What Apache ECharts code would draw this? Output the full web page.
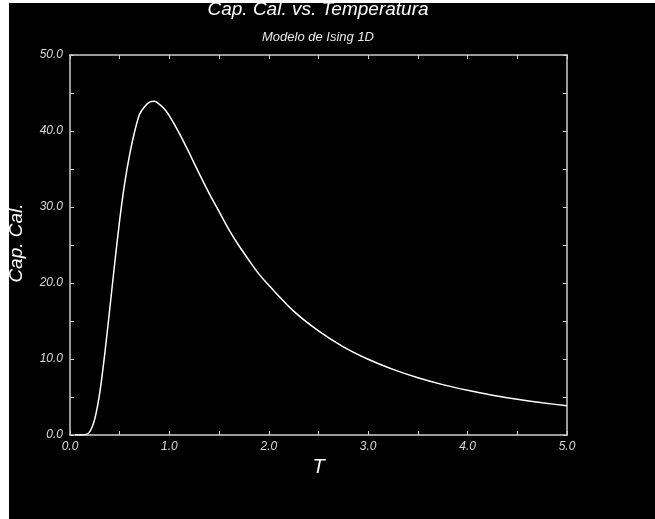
<!DOCTYPE html>
<html>
<head>
<meta charset="utf-8">
<script src="https://cdn.jsdelivr.net/npm/echarts@6/dist/echarts.min.js"></script>
<style>
    html, body { margin: 0; padding: 0; background: #ffffff; }
    #chart { position: absolute; left: 9px; top: 3px; width: 646px; height: 516px; }
</style>
</head>
<body>
<div id="chart"></div>
<script>
// Temperatura (eje x)
const temps = [0.05, 0.1, 0.15, 0.2, 0.25, 0.3, 0.35, 0.4, 0.45, 0.5, 0.55, 0.6, 0.65, 0.7, 0.75, 0.8, 0.85, 0.9, 0.95, 1.0,
    1.1, 1.2, 1.3, 1.4, 1.5, 1.6, 1.7, 1.8, 1.9, 2.0, 2.25, 2.5, 2.75, 3.0, 3.25, 3.5, 3.75, 4.0, 4.25, 4.5, 4.75, 5.0];
// Capacidad calorifica
const capCal = [0.0, 0.0, 0.03, 0.45, 2.15, 5.6, 10.7, 16.6, 22.6, 28.3, 33.1, 36.9, 39.9, 42.2, 43.2, 43.8, 43.9, 43.5, 42.9, 42.0,
    39.7, 37.1, 34.4, 31.8, 29.4, 27.0, 24.9, 23.0, 21.2, 19.7, 16.3, 13.7, 11.6, 9.96, 8.63, 7.53, 6.63, 5.88, 5.24, 4.70, 4.24, 3.84];

const xTicks = [0, 1, 2, 3, 4, 5];
const yTicks = [0, 10, 20, 30, 40, 50];

const titleText = 'Cap. Cal. vs. Temperatura';
const subtitleText = 'Modelo de Ising 1D';
const xName = 'T';
const yName = 'Cap. Cal.';

const font = 'Liberation Sans, Arial, sans-serif';
const frameColor = '#cfcfcf';

const points = temps.map((t, i) => [t, capCal[i]]);

// etiquetas solo en los valores principales
const fmt = (list) => (v) => list.some(k => Math.abs(k - v) < 1e-9) ? v.toFixed(1) : '';

const frameAxis = (extra) => Object.assign({
    type: 'value',
    axisLine: { show: true, onZero: false, lineStyle: { color: frameColor, width: 1.5 } },
    axisTick: { show: true, inside: true, length: 4, lineStyle: { color: frameColor, width: 1 } },
    splitLine: { show: false },
}, extra);

const chart = echarts.init(document.getElementById('chart'));

chart.setOption({
    backgroundColor: '#000000',
    animation: false,
    grid: { left: 61, right: 88, top: 52, bottom: 84 },
    graphic: [
        {
            type: 'text', x: 309, y: -3,
            style: { text: titleText, fill: '#ffffff', font: 'italic 19px ' + font, textAlign: 'center', textVerticalAlign: 'top' }
        },
        {
            type: 'text', x: 309, y: 28,
            style: { text: subtitleText, fill: '#e8e8e8', font: 'italic 13px ' + font, textAlign: 'center', textVerticalAlign: 'top' }
        },
        {
            type: 'text', x: 8, y: 240, rotation: Math.PI / 2,
            style: { text: yName, fill: '#ffffff', font: 'italic 19px ' + font, textAlign: 'center', textVerticalAlign: 'middle' }
        }
    ],
    xAxis: [
        frameAxis({
            position: 'bottom', min: 0, max: 5, interval: 0.5,
            name: xName, nameLocation: 'middle', nameGap: 16,
            nameTextStyle: { color: '#ffffff', fontSize: 20, fontStyle: 'italic', fontFamily: font, verticalAlign: 'top' },
            axisLabel: { color: '#d8d8d8', fontSize: 12, fontStyle: 'italic', fontFamily: font, margin: 6, formatter: fmt(xTicks) }
        }),
        frameAxis({ position: 'top', min: 0, max: 5, interval: 0.5, axisLabel: { show: false } })
    ],
    yAxis: [
        frameAxis({
            position: 'left', min: 0, max: 50, interval: 5,
            axisLabel: { color: '#d8d8d8', fontSize: 12, fontStyle: 'italic', fontFamily: font, margin: 7, formatter: fmt(yTicks) }
        }),
        frameAxis({ position: 'right', min: 0, max: 50, interval: 5, axisLabel: { show: false } })
    ],
    series: [
        {
            type: 'line',
            xAxisIndex: 0,
            yAxisIndex: 0,
            data: points,
            smooth: 0.3,
            showSymbol: false,
            lineStyle: { color: '#ffffff', width: 1.5 }
        }
    ]
});
</script>
</body>
</html>
